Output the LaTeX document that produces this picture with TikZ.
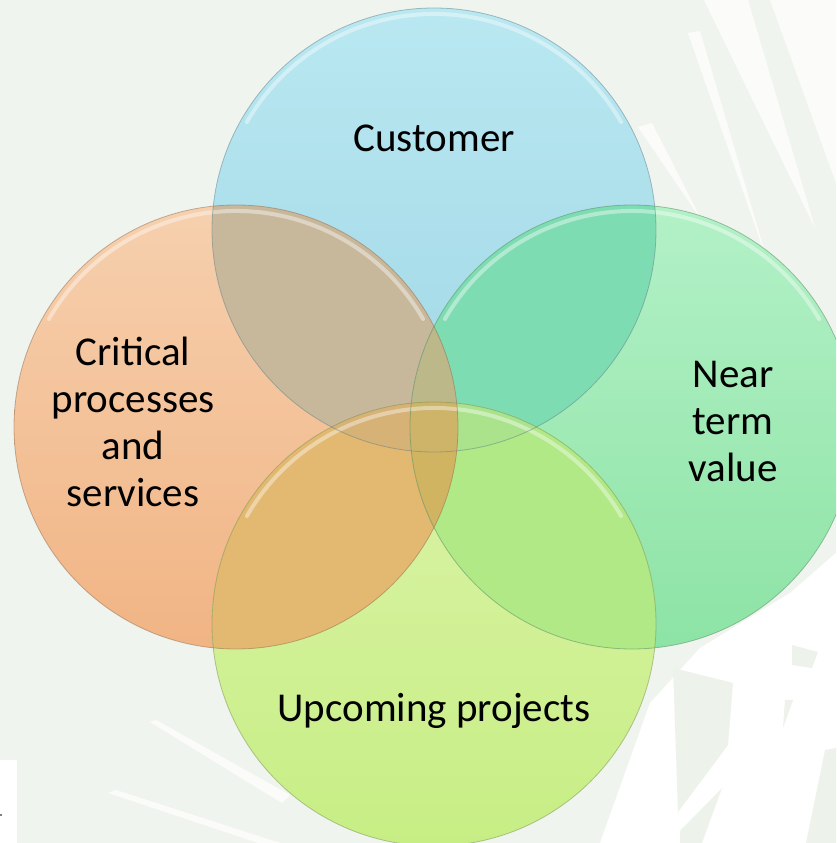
\documentclass[tikz,border=0pt]{standalone}
\usepackage{fontspec}
\setmainfont{Carlito}

\definecolor{bgpale}{HTML}{F0F4EE}
\definecolor{custtop}{HTML}{B9E8F1}
\definecolor{custbot}{HTML}{A0D7E6}
\definecolor{crittop}{HTML}{F6D0AE}
\definecolor{critbot}{HTML}{F1B484}
\definecolor{neartop}{HTML}{B3F1C7}
\definecolor{nearbot}{HTML}{8DE3A5}
\definecolor{uptop}{HTML}{DCF3A8}
\definecolor{upbot}{HTML}{C7EE85}
\definecolor{ovTL}{HTML}{C8B89B}
\definecolor{ovTR}{HTML}{7EDCB2}
\definecolor{ovLB}{HTML}{E3B870}
\definecolor{ovRB}{HTML}{B0E986}
\definecolor{ovTLR}{HTML}{BDB88A}
\definecolor{ovTLB}{HTML}{D6B276}
\definecolor{ovTRB}{HTML}{ABE38C}
\definecolor{ovLRB}{HTML}{D1B462}
\definecolor{ovall}{HTML}{CDB469}
\definecolor{paleleaf}{HTML}{EDF2EA}

\newcommand{\rad}{222pt}

\begin{document}
\begin{tikzpicture}[x=1pt,y=1pt,
        lbl/.style={font=\fontsize{41}{47}\selectfont, align=center, text=black, inner sep=0pt},
        rim/.style={line width=0.8pt, draw opacity=0.5},
        gloss/.style={white, line width=4pt, opacity=0.4, line cap=round},
        streak/.style={fill=white, fill opacity=0.75}]
        \useasboundingbox (0,0) rectangle (836,843);
        \clip (0,0) rectangle (836,843);
        \fill[bgpale] (0,0) rectangle (836,843);
        
        \fill[streak] (704,843) -- (748,843) -- (815,615) -- cycle;
        \fill[streak] (770,843) -- (836,843) -- (836,660) -- cycle;
        \fill[streak] (688,810) -- (700,812) -- (768,580) -- cycle;
        \fill[streak] (638,716) -- (652,720) -- (702,622) -- cycle;
        \fill[white] (600,0) -- (836,0) -- (836,290) -- (790,250) -- (700,195) -- (650,140) -- cycle;
        \fill[paleleaf] (673,175) -- (733,160) -- (728,98) -- (678,31) -- cycle;
        \fill[paleleaf] (792,198) -- (818,191) -- (812,175) -- (792,178) -- cycle;
        \fill[paleleaf] (785,143) -- (793,143) -- (783,115) -- cycle;
        \fill[paleleaf] (825,93) -- (836,95) -- (836,0) -- (806,0) -- cycle;
        \fill[paleleaf] (722,55) -- (680,12) -- (680,0) -- (702,0) -- cycle;
        \fill[streak] (150,121) -- (156,123) -- (290,48) -- (282,40) -- cycle;
        \fill[streak] (108,50) -- (116,53) -- (280,0) -- (258,0) -- cycle;
        \fill[white] (0,0) rectangle (17,83);
        \fill[gray] (0,27) rectangle (2,29);
        
        \coordinate (T) at (434,613);
        \coordinate (L) at (236,416);
        \coordinate (R) at (632,416);
        \coordinate (B) at (434,219);
        
        \shade[top color=custtop, bottom color=custbot] (T) circle[radius=\rad];
        \shade[top color=crittop, bottom color=critbot] (L) circle[radius=\rad];
        \shade[top color=neartop, bottom color=nearbot] (R) circle[radius=\rad];
        \shade[top color=uptop, bottom color=upbot] (B) circle[radius=\rad];
        
        \begin{scope}
          \clip (T) circle[radius=\rad];
          \fill[ovTL] (L) circle[radius=\rad];
          \fill[ovTR] (R) circle[radius=\rad];
        \end{scope}
        \begin{scope}
          \clip (B) circle[radius=\rad];
          \fill[ovLB] (L) circle[radius=\rad];
          \fill[ovRB] (R) circle[radius=\rad];
        \end{scope}
        \begin{scope}
          \clip (T) circle[radius=\rad];
          \clip (L) circle[radius=\rad];
          \fill[ovTLR] (R) circle[radius=\rad];
          \fill[ovTLB] (B) circle[radius=\rad];
        \end{scope}
        \begin{scope}
          \clip (B) circle[radius=\rad];
          \clip (R) circle[radius=\rad];
          \fill[ovTRB] (T) circle[radius=\rad];
          \fill[ovLRB] (L) circle[radius=\rad];
        \end{scope}
        \begin{scope}
          \clip (T) circle[radius=\rad];
          \clip (L) circle[radius=\rad];
          \clip (R) circle[radius=\rad];
          \fill[ovall] (B) circle[radius=\rad];
        \end{scope}
        
        \draw[gloss] (T) ++(150:216pt) arc[start angle=150, end angle=30, radius=216pt];
        \draw[gloss] (L) ++(150:216pt) arc[start angle=150, end angle=30, radius=216pt];
        \draw[gloss] (R) ++(150:216pt) arc[start angle=150, end angle=30, radius=216pt];
        \draw[gloss] (B) ++(150:216pt) arc[start angle=150, end angle=30, radius=216pt];
        
        \draw[rim, custbot!60!black] (T) circle[radius=\rad];
        \draw[rim, critbot!60!black] (L) circle[radius=\rad];
        \draw[rim, nearbot!60!black] (R) circle[radius=\rad];
        \draw[rim, upbot!60!black] (B) circle[radius=\rad];
        
        \node[lbl] (cust) at (434,705) {Customer};
        \node[lbl] (crit) at (133,421) {Critical\\processes\\and\\services};
        \node[lbl] (near) at (733,421) {Near\\term\\value};
        \node[lbl] (up) at (434,132) {Upcoming projects};
      \end{tikzpicture}
\end{document}
